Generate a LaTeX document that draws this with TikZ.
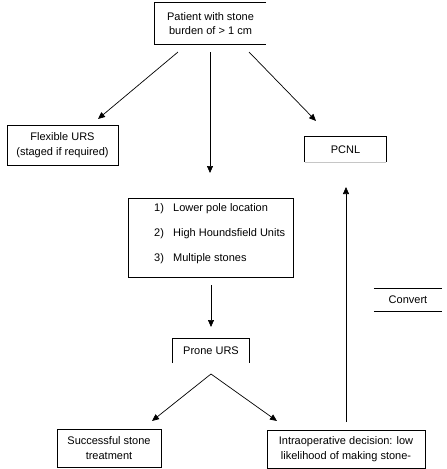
\documentclass[tikz,border=0pt]{standalone}
\usepackage{fontspec}
\setmainfont{Liberation Sans}
\usetikzlibrary{arrows.meta}
\begin{document}
\begin{tikzpicture}[x=1pt,y=-1pt,
  box/.style={inner sep=0pt, align=center, font=\fontsize{11}{14.5}\selectfont},
  ln/.style={line width=0.7pt},
  arr/.style={line width=0.7pt,-{Triangle[length=7pt,width=6pt]}},
  item/.style={inner sep=0pt, anchor=west, font=\fontsize{11}{14.5}\selectfont}
]
\useasboundingbox (0,0) rectangle (447,469);
% boxes
\node[box, minimum width=111pt, minimum height=41pt] (top) at (210.5,23.5) {Patient with stone\\burden of > 1 cm};
\draw[ln] (top.north east) -- (top.north west) -- (top.south west) -- (top.south east);

\node[box, draw, ln, minimum width=111pt, minimum height=40pt] (flex) at (62.5,145) {Flexible URS\\(staged if required)};

\node[box, minimum width=81pt, minimum height=25pt] (pcnl) at (345.5,149.5) {PCNL};
\draw[ln] (pcnl.south west) -- (pcnl.north west) -- (pcnl.north east) -- (pcnl.south east);
\draw[ln, gray!45] (pcnl.south west) -- (pcnl.south east);

\node[box, draw, ln, minimum width=165pt, minimum height=79pt] (mid) at (210.5,237.5) {};
\node[item] (n1) at (154,209) {1)};
\node[item] (t1) at (173,209) {Lower pole location};
\node[item] (n2) at (154,234) {2)};
\node[item] (t2) at (173,234) {High Houndsfield Units};
\node[item] (n3) at (154,259) {3)};
\node[item] (t3) at (173,259) {Multiple stones};

\node[box, minimum width=76pt, minimum height=24pt] (prone) at (211,351) {Prone URS};
\draw[ln] (prone.south west) -- (prone.north west) -- (prone.north east) -- (prone.south east);

\node[box, minimum width=68pt, minimum height=22pt] (conv) at (408,300) {Convert};
\draw[ln] (conv.north west) -- (conv.north east);
\draw[ln] (conv.south west) -- (conv.south east);

\node[box, draw, ln, minimum width=104pt, minimum height=38pt] (succ) at (109,448) {Successful stone\\treatment};
\node[box, draw, ln, minimum width=158pt, minimum height=38pt] (intra) at (346,449) {Intraoperative decision: low\\likelihood of making stone-};

% arrows
\coordinate (s1) at (178,52);
\coordinate (s2) at (210,52);
\coordinate (s3) at (249,52);
\coordinate (e1) at (98,119);
\coordinate (e2) at (210,173);
\coordinate (e3) at (316,121);
\draw[arr] (s1) -- (e1);
\draw[arr] (s2) -- (e2);
\draw[arr] (s3) -- (e3);

\coordinate (m1) at (211,285);
\coordinate (m2) at (211,327);
\draw[arr] (m1) -- (m2);

\coordinate (p0) at (211,374);
\coordinate (p1) at (152,421);
\coordinate (p2) at (277,421);
\draw[arr] (p0) -- (p1);
\draw[arr] (p0) -- (p2);

\coordinate (u0) at (346,422);
\coordinate (u1) at (346,187);
\draw[arr] (u0) -- (u1);
\end{tikzpicture}
\end{document}
